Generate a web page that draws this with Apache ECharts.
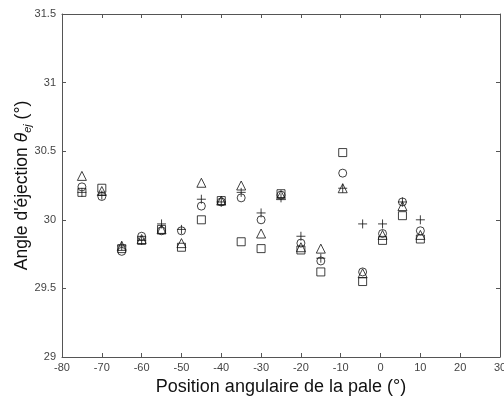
<!DOCTYPE html>
<html><head><meta charset="utf-8">
<script src="https://cdn.jsdelivr.net/npm/echarts@6/dist/echarts.min.js"></script>
<style>html,body{margin:0;padding:0;background:#fff}#c{width:504px;height:401px}</style>
</head><body><div id="c"></div>
<script>
const positions = [-75,-70,-65,-60,-55,-50,-45,-40,-35,-30,-25,-20,-15,-9.5,-4.5,0.5,5.5,10];
const triangleVals = [30.32,30.21,29.81,29.86,29.93,29.83,30.27,30.14,30.25,29.90,30.18,29.80,29.79,30.23,29.61,29.89,30.10,29.89];
const circleVals   = [30.24,30.17,29.77,29.88,29.92,29.92,30.10,30.13,30.16,30.00,30.18,29.83,29.70,30.34,29.62,29.90,30.13,29.92];
const plusVals     = [30.20,30.18,29.81,29.85,29.97,29.93,30.15,30.13,30.20,30.05,30.16,29.88,29.72,30.23,29.97,29.97,30.13,30.00];
const squareVals   = [30.20,30.23,29.79,29.85,29.93,29.80,30.00,30.14,29.84,29.79,30.19,29.78,29.62,30.49,29.55,29.85,30.03,29.86];
const xTicks = [-80,-70,-60,-50,-40,-30,-20,-10,0,10,20,30];
const yTicks = [29,29.5,30,30.5,31,31.5];

const pair = vals => positions.map((x,i)=>[x, vals[i]]);
const axisCol = '#555';
const font = 'Liberation Sans, Arial, sans-serif';
const mk = (name, symbol, size, vals) => ({
  name, type:'scatter', symbol, symbolSize:size, data: pair(vals),
  itemStyle:{color:'rgba(0,0,0,0)', borderColor:'#111', borderWidth:1},
  emphasis:{disabled:true}, animation:false
});
const baseX = {
  type:'value', min:-80, max:30, interval:10,
  axisLine:{show:true, onZero:false, lineStyle:{color:axisCol, width:1}},
  axisTick:{show:true, inside:true, length:4, lineStyle:{color:axisCol}},
  splitLine:{show:false}
};
const baseY = {
  type:'value', min:29, max:31.5, interval:0.5,
  axisLine:{show:true, onZero:false, lineStyle:{color:axisCol, width:1}},
  axisTick:{show:true, inside:true, length:4, lineStyle:{color:axisCol}},
  splitLine:{show:false}
};
const chart = echarts.init(document.getElementById('c'), null, {renderer:'canvas'});
chart.setOption({
  backgroundColor:'#fff',
  animation:false,
  grid:{left:62, right:4, top:14, bottom:44, containLabel:false, outerBoundsMode:'none'},
  xAxis:[
    Object.assign({}, baseX, {position:'bottom',
      axisLabel:{show:true, color:'#444', fontSize:11, fontFamily:font, margin:5, hideOverlap:false,
        formatter: v => xTicks.includes(v) ? String(v) : ''},
      name:'Position angulaire de la pale (°)', nameLocation:'middle', nameGap:21, nameMoveOverlap:false,
      nameTextStyle:{color:'#111', fontSize:18, fontFamily:font}}),
    Object.assign({}, baseX, {position:'top', axisLabel:{show:false}})
  ],
  yAxis:[
    Object.assign({}, baseY, {position:'left',
      axisLabel:{show:true, color:'#444', fontSize:11, fontFamily:font, margin:6,
        formatter: v => yTicks.includes(v) ? String(v) : ''},
      name:"Angle d'éjection {th|θ}{sub|ej} (°)", nameLocation:'middle', nameGap:29, nameRotate:90,
      nameMoveOverlap:false,
      nameTextStyle:{color:'#111', fontSize:17.5, fontFamily:font,
        rich:{
          th:{fontSize:17.5, fontStyle:'italic', fontFamily:font, color:'#111'},
          sub:{fontSize:11, fontStyle:'italic', fontFamily:font, color:'#111', padding:[11,0,0,0]}
        }}}),
    Object.assign({}, baseY, {position:'right', axisLabel:{show:false}})
  ],
  series:[
    mk('triangle','triangle',9,triangleVals),
    mk('circle','circle',8,circleVals),
    mk('plus','path://M0,-1L0,1M-1,0L1,0',9,plusVals),
    mk('square','rect',8,squareVals)
  ]
});
</script></body></html>
